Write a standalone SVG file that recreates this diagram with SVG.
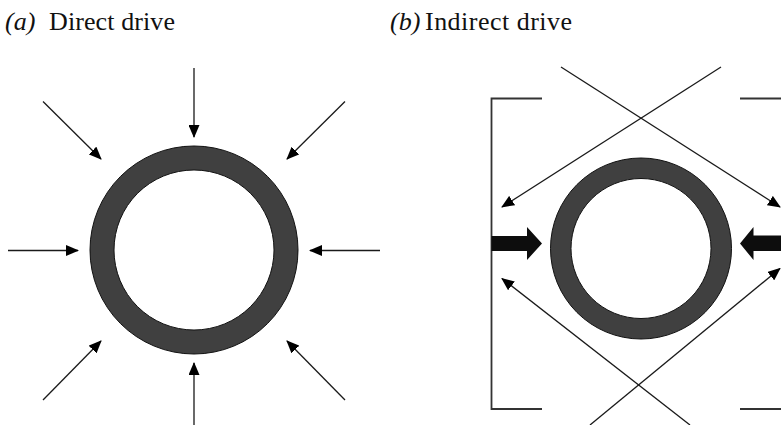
<svg xmlns="http://www.w3.org/2000/svg" width="781" height="425" viewBox="0 0 781 425">
  <style>
    .title { font-family: "Liberation Serif", "Times New Roman", serif; font-size: 26px; fill: #111; }
    .ital { font-style: italic; }
    .ringOuter { fill: #404040; stroke: #111; stroke-width: 1; }
    .ringInner { fill: #fff; stroke: #111; stroke-width: 1; }
    .beam { stroke: #1a1a1a; stroke-width: 1.3; fill: none; }
    .bracket { stroke: #333; stroke-width: 1.8; fill: none; }
    .thick { fill: #0d0d0d; }
  </style>
  <defs>
    <marker id="ah" viewBox="0 0 13 11" refX="12" refY="5.5" markerWidth="13" markerHeight="11" markerUnits="userSpaceOnUse" orient="auto">
      <path d="M0,0 L13,5.5 L0,11 z" fill="#000"/>
    </marker>
  </defs>

  <g id="titles">
    <text class="title ital" x="5" y="30">(a)</text>
    <text class="title" x="49" y="30" textLength="126" lengthAdjust="spacing">Direct drive</text>
    <text class="title ital" x="390" y="30">(b)</text>
    <text class="title" x="425" y="30" textLength="147" lengthAdjust="spacing">Indirect drive</text>
  </g>

  <g id="capsule-a">
    <circle class="ringOuter" cx="194" cy="250" r="104"/>
    <circle class="ringInner" cx="194" cy="250" r="80"/>
  </g>

  <g id="capsule-b">
    <circle class="ringOuter" cx="641" cy="248.5" r="90.5"/>
    <circle class="ringInner" cx="641" cy="248.5" r="70"/>
  </g>

  <g id="hohlraum">
    <path class="bracket" d="M542,98.5 H491.5 V409 H542"/>
    <path class="bracket" d="M740,98.5 H781"/>
    <path class="bracket" d="M740,409 H781"/>
  </g>

  <g id="connectors">
    <!-- direct drive beams -->
    <line class="beam" x1="194" y1="68" x2="194" y2="137" marker-end="url(#ah)"/>
    <line class="beam" x1="194" y1="425" x2="194" y2="363" marker-end="url(#ah)"/>
    <line class="beam" x1="8" y1="250.5" x2="78" y2="250.5" marker-end="url(#ah)"/>
    <line class="beam" x1="380" y1="250.5" x2="310" y2="250.5" marker-end="url(#ah)"/>
    <line class="beam" x1="43" y1="101.5" x2="101" y2="159" marker-end="url(#ah)"/>
    <line class="beam" x1="345" y1="101.5" x2="287" y2="159" marker-end="url(#ah)"/>
    <line class="beam" x1="43" y1="400" x2="101" y2="341" marker-end="url(#ah)"/>
    <line class="beam" x1="345" y1="400" x2="287" y2="341" marker-end="url(#ah)"/>

    <!-- indirect drive beams -->
    <line class="beam" x1="561" y1="67" x2="780" y2="207" marker-end="url(#ah)"/>
    <line class="beam" x1="721" y1="67" x2="502" y2="207" marker-end="url(#ah)"/>
    <line class="beam" x1="690" y1="425" x2="502" y2="278.5" marker-end="url(#ah)"/>
    <line class="beam" x1="590" y1="425" x2="780" y2="268.5" marker-end="url(#ah)"/>

    <!-- x-ray arrows -->
    <polygon class="thick" points="491.5,236 527,236 527,227 542,243.5 527,260 527,251 491.5,251"/>
    <polygon class="thick" points="781,235.5 753.5,235.5 753.5,227 740,243.5 753.5,260 753.5,251 781,251"/>
  </g>
</svg>
